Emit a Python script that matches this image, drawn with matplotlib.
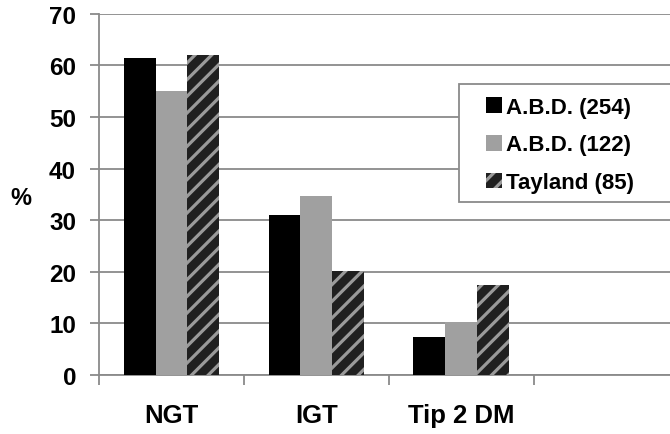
import matplotlib.pyplot as plt
from matplotlib.patches import Rectangle
import numpy as np

plt.rcParams['font.family'] = ['Liberation Sans', 'DejaVu Sans']
plt.rcParams['font.weight'] = 'bold'
plt.rcParams['axes.labelweight'] = 'bold'
plt.rcParams['hatch.linewidth'] = 2.3

groups = ["NGT", "IGT", "Tip 2 DM"]
series_names = ["A.B.D. (254)", "A.B.D. (122)", "Tayland (85)"]
abd_254 = [61.5, 31.0, 7.3]
abd_122 = [55.0, 34.7, 10.2]
tayland = [62.0, 20.2, 17.5]

grid_col = "#8a8a8a"
W, H = 670, 435

fig = plt.figure(figsize=(6.7, 4.35), dpi=100)
ax = fig.add_axes([99 / W, 1 - 376 / H, 1 - 99 / W, (376 - 14.7) / H])

x = np.arange(len(groups))
w = 0.22
ax.bar(x - w, abd_254, w, color="#000000", label=series_names[0], zorder=3)
ax.bar(x, abd_122, w, color="#a0a0a0", label=series_names[1], zorder=3)
ax.bar(x + w, tayland, w, color="#202020", edgecolor="#9a9a9a", linewidth=0,
       hatch="//", label=series_names[2], zorder=3)

ax.set_ylim(0, 70)
ax.set_xlim(-0.5, 3.44)
ax.set_yticks(range(0, 71, 10))
ax.yaxis.grid(True, color=grid_col, linewidth=1.3, zorder=0)
ax.tick_params(axis="y", labelsize=17.5, length=6.5, width=1.3, color=grid_col, pad=10)

# category borders get the tick marks, labels sit in the middle of each slot
ax.set_xticks([-0.5, 0.5, 1.5, 2.5])
ax.set_xticklabels([])
ax.set_xticks(x, minor=True)
ax.set_xticklabels(groups, minor=True)
ax.tick_params(axis="x", which="major", length=7, width=1.3, color=grid_col)
ax.tick_params(axis="x", which="minor", length=0, labelsize=18.5, pad=20)

for lbl in ax.get_yticklabels() + ax.get_xticklabels(minor=True):
    lbl.set_fontweight("bold")

for side in ("top", "right"):
    ax.spines[side].set_visible(False)
for side in ("left", "bottom"):
    ax.spines[side].set_color(grid_col)
    ax.spines[side].set_linewidth(1.3)

ax.set_ylabel("%", rotation=0, fontsize=17, fontweight="bold", va="center", ha="center")
ax.yaxis.set_label_coords(-0.137, 0.49)

# white box behind the legend, running off the right edge
box = Rectangle((459 / W, 1 - 203 / H), 0.4, 118 / H, transform=fig.transFigure,
                facecolor="white", edgecolor=grid_col, linewidth=1.3, zorder=4,
                clip_on=False)
ax.add_patch(box)

leg = ax.legend(loc="center left", bbox_to_anchor=(486 / W, 1 - 146 / H),
                bbox_transform=fig.transFigure, borderaxespad=0, borderpad=0,
                prop={"size": 16, "weight": "bold"}, frameon=False,
                handlelength=0.7, handleheight=0.7, handletextpad=0.2,
                labelspacing=0.75)
leg.set_zorder(5)

fig.savefig("out.png", dpi=100)
